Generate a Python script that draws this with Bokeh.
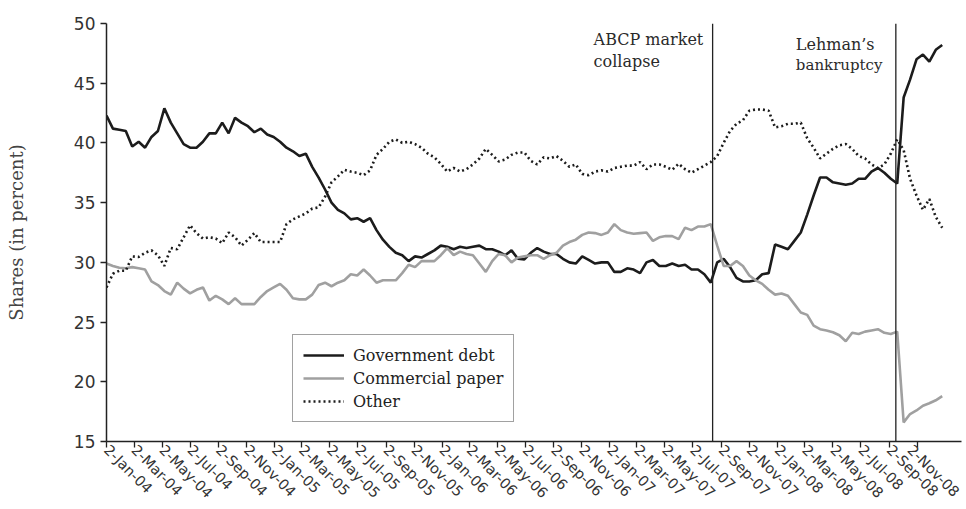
import pandas as pd
import math
from bokeh.plotting import figure
from bokeh.models import (Span, Label, Legend, LegendItem, FixedTicker, Range1d)
from bokeh.embed import file_html
from bokeh.resources import INLINE

# biweekly observation dates
dates = pd.date_range("2004-01-02", periods=131, freq="14D")

gov = [42.3, 41.2, 41.1, 41.0, 39.7, 40.1, 39.6, 40.5, 41.0, 42.9,
       41.7, 40.8, 39.9, 39.6, 39.6, 40.1, 40.8, 40.8, 41.7, 40.8,
       42.1, 41.7, 41.4, 40.9, 41.2, 40.7, 40.5, 40.1, 39.6, 39.3,
       38.9, 39.1, 38.0, 37.1, 36.1, 35.0, 34.4, 34.1, 33.6, 33.7,
       33.4, 33.7, 32.7, 31.9, 31.3, 30.8, 30.6, 30.1, 30.5, 30.4,
       30.7, 31.0, 31.4, 31.3, 31.1, 31.3, 31.2, 31.3, 31.4, 31.1,
       31.1, 30.9, 30.6, 31.0, 30.3, 30.25, 30.8, 31.2, 30.9, 30.7,
       30.7, 30.3, 30.0, 29.9, 30.5, 30.2, 29.9, 30.0, 30.0, 29.2,
       29.2, 29.5, 29.4, 29.1, 30.0, 30.2, 29.7, 29.7, 29.9, 29.7,
       29.8, 29.4, 29.4, 29.0, 28.3, 30.0, 30.3, 29.6, 28.7, 28.4,
       28.4, 28.5, 29.0, 29.1, 31.5, 31.3, 31.1, 31.8, 32.5, 34.0,
       35.6, 37.1, 37.1, 36.7, 36.6, 36.5, 36.6, 37.0, 37.0, 37.6,
       37.9, 37.5, 37.0, 36.6, 43.8, 45.3, 47.0, 47.4, 46.8, 47.8,
       48.2]

cp = [29.9, 29.7, 29.55, 29.5, 29.6, 29.5, 29.4, 28.4, 28.1, 27.6,
      27.3, 28.3, 27.8, 27.4, 27.7, 27.9, 26.8, 27.2, 26.9, 26.5,
      27.0, 26.5, 26.5, 26.5, 27.1, 27.6, 27.9, 28.2, 27.7, 27.0,
      26.9, 26.9, 27.3, 28.1, 28.3, 28.0, 28.3, 28.5, 29.0, 28.9,
      29.4, 28.9, 28.3, 28.5, 28.5, 28.5, 29.1, 29.8, 29.6, 30.1,
      30.1, 30.1, 30.6, 31.2, 30.6, 30.9, 30.7, 30.6, 29.9, 29.2,
      30.1, 30.7, 30.6, 30.0, 30.4, 30.5, 30.6, 30.6, 30.3, 30.6,
      30.8, 31.4, 31.7, 31.9, 32.3, 32.5, 32.45, 32.3, 32.5, 33.2,
      32.7, 32.5, 32.4, 32.45, 32.5, 31.8, 32.1, 32.2, 32.2, 31.95,
      32.9, 32.7, 33.0, 33.0, 33.2, 31.4, 29.7, 29.7, 30.1, 29.7,
      28.9, 28.5, 28.2, 27.7, 27.3, 27.4, 27.2, 26.5, 25.8, 25.6,
      24.7, 24.4, 24.3, 24.15, 23.9, 23.4, 24.1, 24.0, 24.2, 24.3,
      24.4, 24.1, 24.0, 24.2, 16.6, 17.3, 17.6, 18.0, 18.2, 18.45,
      18.8]

other = [27.9, 29.05, 29.3, 29.3, 30.5, 30.45, 30.8, 31.0, 30.6, 29.7,
         31.2, 31.1, 32.1, 33.1, 32.45, 32.0, 32.1, 32.0, 31.6, 32.5,
         32.1, 31.4, 31.9, 32.45, 31.7, 31.7, 31.7, 31.7, 33.2, 33.6,
         33.85, 34.1, 34.5, 34.6, 35.5, 36.7, 37.2, 37.75, 37.6, 37.5,
         37.3, 37.7, 39.0, 39.5, 40.1, 40.3, 40.0, 40.1, 39.9, 39.6,
         39.1, 38.8, 38.25, 37.6, 37.9, 37.6, 37.8, 38.2, 38.7, 39.5,
         39.0, 38.45, 38.6, 39.0, 39.2, 39.2, 38.5, 38.2, 38.8, 38.7,
         38.9, 38.5, 38.0, 38.2, 37.4, 37.3, 37.6, 37.7, 37.6, 37.9,
         38.0, 38.1, 38.1, 38.4, 37.8, 38.2, 38.2, 38.0, 37.75, 38.25,
         37.8, 37.5, 37.8, 38.1, 38.4, 38.9, 40.0, 41.0, 41.6, 41.9,
         42.7, 42.8, 42.8, 42.7, 41.3, 41.4, 41.6, 41.6, 41.7, 40.4,
         39.6, 38.7, 39.1, 39.5, 39.8, 39.9, 39.5, 38.9, 38.7, 38.2,
         37.9, 38.2, 39.1, 40.3, 39.4, 37.0, 35.6, 34.4, 35.3, 33.8,
         32.9]

series_names = ["Government debt", "Commercial paper", "Other"]

tick_labels = ["2-Jan-04", "2-Mar-04", "2-May-04", "2-Jul-04", "2-Sep-04", "2-Nov-04",
               "2-Jan-05", "2-Mar-05", "2-May-05", "2-Jul-05", "2-Sep-05", "2-Nov-05",
               "2-Jan-06", "2-Mar-06", "2-May-06", "2-Jul-06", "2-Sep-06", "2-Nov-06",
               "2-Jan-07", "2-Mar-07", "2-May-07", "2-Jul-07", "2-Sep-07", "2-Nov-07",
               "2-Jan-08", "2-Mar-08", "2-May-08", "2-Jul-08", "2-Sep-08", "2-Nov-08"]
y_ticks = [15, 20, 25, 30, 35, 40, 45, 50]

event_dates = ["2007-08-14", "2008-09-16"]
event_text = [["ABCP market", "collapse"], ["Lehman\u2019s", "bankruptcy"]]

EPOCH = pd.Timestamp("1970-01-01")


def to_ms(ts):
    return (pd.Timestamp(ts) - EPOCH).total_seconds() * 1000.0


x_ms = [to_ms(d) for d in dates]
tick_ms = [to_ms(pd.to_datetime(t, format="%d-%b-%y")) for t in tick_labels]

p = figure(width=962, height=509, x_axis_type="datetime",
           output_backend="svg", toolbar_location=None,
           x_range=Range1d(to_ms("2004-01-02"), to_ms("2009-02-06")),
           y_range=Range1d(15, 50),
           min_border_left=106, min_border_right=1,
           min_border_top=23, min_border_bottom=67)

p.xgrid.visible = False
p.ygrid.visible = False
p.outline_line_color = None
p.background_fill_color = "white"
p.border_fill_color = "white"

r1 = p.line(x_ms, gov, line_color="#1c1c1c", line_width=2.6)
r2 = p.line(x_ms, cp, line_color="#a0a0a0", line_width=2.6)
r3 = p.line(x_ms, other, line_color="#1c1c1c", line_width=2.6, line_dash="2 3")

for ax in (p.xaxis[0], p.yaxis[0]):
    ax.axis_line_color = "#222222"
    ax.axis_line_width = 1.5
    ax.major_tick_line_color = "#222222"
    ax.major_tick_line_width = 1.3
    ax.major_tick_out = 6
    ax.major_tick_in = 0
    ax.minor_tick_out = 0
    ax.minor_tick_in = 0
    ax.major_label_text_color = "#333333"
    ax.major_label_text_font = "DejaVu Sans"

p.xaxis.ticker = FixedTicker(ticks=tick_ms)
p.xaxis.major_label_overrides = {t: lab for t, lab in zip(tick_ms, tick_labels)}
p.xaxis.major_label_orientation = -math.pi / 4
p.xaxis.major_label_text_font_size = "14.5px"
p.xaxis.major_label_text_line_height = 1.0
p.xaxis.major_label_standoff = 0

p.yaxis.ticker = FixedTicker(ticks=y_ticks)
p.yaxis.major_label_text_font_size = "17px"
p.yaxis.major_label_standoff = 5
p.yaxis.axis_label = "Shares (in percent)"
p.yaxis.axis_label_text_font = "DejaVu Serif"
p.yaxis.axis_label_text_font_size = "18px"
p.yaxis.axis_label_text_font_style = "normal"
p.yaxis.axis_label_text_color = "#444444"
p.yaxis.axis_label_standoff = 44

for d in event_dates:
    p.add_layout(Span(location=to_ms(d), dimension="height",
                      line_color="#222222", line_width=1.3))

# annotation texts, anchored to the event lines
offsets = [-119, -100]
baselines = [[48.62, 46.82], [48.22, 46.49]]
sizes = [["16px", "16px"], ["16px", "15px"]]
for d, lines, off, ys, fs in zip(event_dates, event_text, offsets, baselines, sizes):
    for txt, yv, f in zip(lines, ys, fs):
        p.add_layout(Label(x=to_ms(d), y=yv, text=txt, x_offset=off,
                           text_align="left", text_baseline="alphabetic",
                           text_font="DejaVu Serif", text_font_size=f,
                           text_color="#2a2a2a"))

legend = Legend(items=[LegendItem(label=series_names[0], renderers=[r1]),
                       LegendItem(label=series_names[1], renderers=[r2]),
                       LegendItem(label=series_names[2], renderers=[r3])],
                location=(186, 19), margin=0, padding=10, spacing=3,
                label_height=20, glyph_height=20, glyph_width=41,
                label_standoff=9, border_line_color="#444444",
                border_line_width=1.5, background_fill_alpha=1.0,
                label_text_font="DejaVu Serif", label_text_font_size="16px",
                label_text_color="#222222")
p.add_layout(legend)

open("out.html", "w").write(file_html(p, INLINE))
